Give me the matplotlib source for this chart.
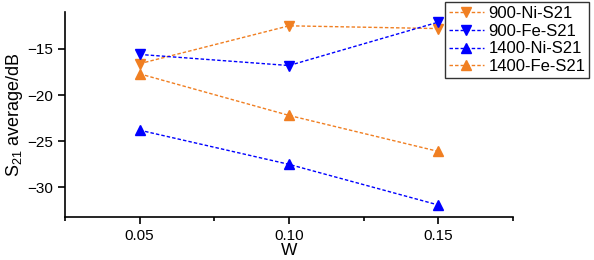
import numpy as np
import matplotlib
matplotlib.use("Agg")
import matplotlib.pyplot as plt
from matplotlib.ticker import MultipleLocator

plt.rcParams["font.family"] = ["Liberation Sans", "DejaVu Sans"]
plt.rcParams["mathtext.default"] = "regular"

w = [0.05, 0.10, 0.15]
ni_900 = [-16.6, -12.5, -12.8]
fe_900 = [-15.6, -16.8, -12.1]
ni_1400 = [-23.8, -27.5, -31.9]
fe_1400 = [-17.7, -22.2, -26.1]

ORANGE = "#f07f22"
BLUE = "#0000ff"

fig = plt.figure(figsize=(5.94, 2.6), dpi=100)
ax = fig.add_axes([0.1094, 0.1654, 0.7542, 0.7886])

ls = (0, (2.5, 1.5))
series = [
    (ni_900, ORANGE, "v", "900-Ni-S21"),
    (fe_900, BLUE, "v", "900-Fe-S21"),
    (ni_1400, BLUE, "^", "1400-Ni-S21"),
    (fe_1400, ORANGE, "^", "1400-Fe-S21"),
]
for ys, c, m, lab in series:
    ax.plot(w, ys, color=c, marker=m, markersize=7.5, linestyle=ls,
            linewidth=1, label=lab)

ax.set_xlim(0.025, 0.175)
ax.set_ylim(-33.2, -11.0)
ax.set_xticks([0.05, 0.10, 0.15])
ax.set_xticklabels(["0.05", "0.10", "0.15"])
ax.xaxis.set_minor_locator(MultipleLocator(0.025))
ax.set_yticks([-15, -20, -25, -30])
for s in ("top", "right"):
    ax.spines[s].set_visible(False)
for s in ("left", "bottom"):
    ax.spines[s].set_linewidth(1.2)
ax.tick_params(axis="both", which="major", direction="out", length=5,
               width=1.2, labelsize=11)
ax.tick_params(axis="x", which="minor", direction="out", length=3, width=1.2)
ax.set_xlabel("W", fontsize=12.5, labelpad=0)
ax.set_ylabel("S$_{21}$ average/dB", fontsize=13, labelpad=2)

leg = ax.legend(loc="upper right", bbox_to_anchor=(0.992, 0.992),
                bbox_transform=fig.transFigure, fontsize=12, frameon=True,
                fancybox=False, edgecolor="#333333", handlelength=2.1,
                borderpad=0.22, labelspacing=0.17, handletextpad=0.3,
                borderaxespad=0, framealpha=1)
leg.get_frame().set_linewidth(1)

fig.savefig("out.png", dpi=100, facecolor="white")
